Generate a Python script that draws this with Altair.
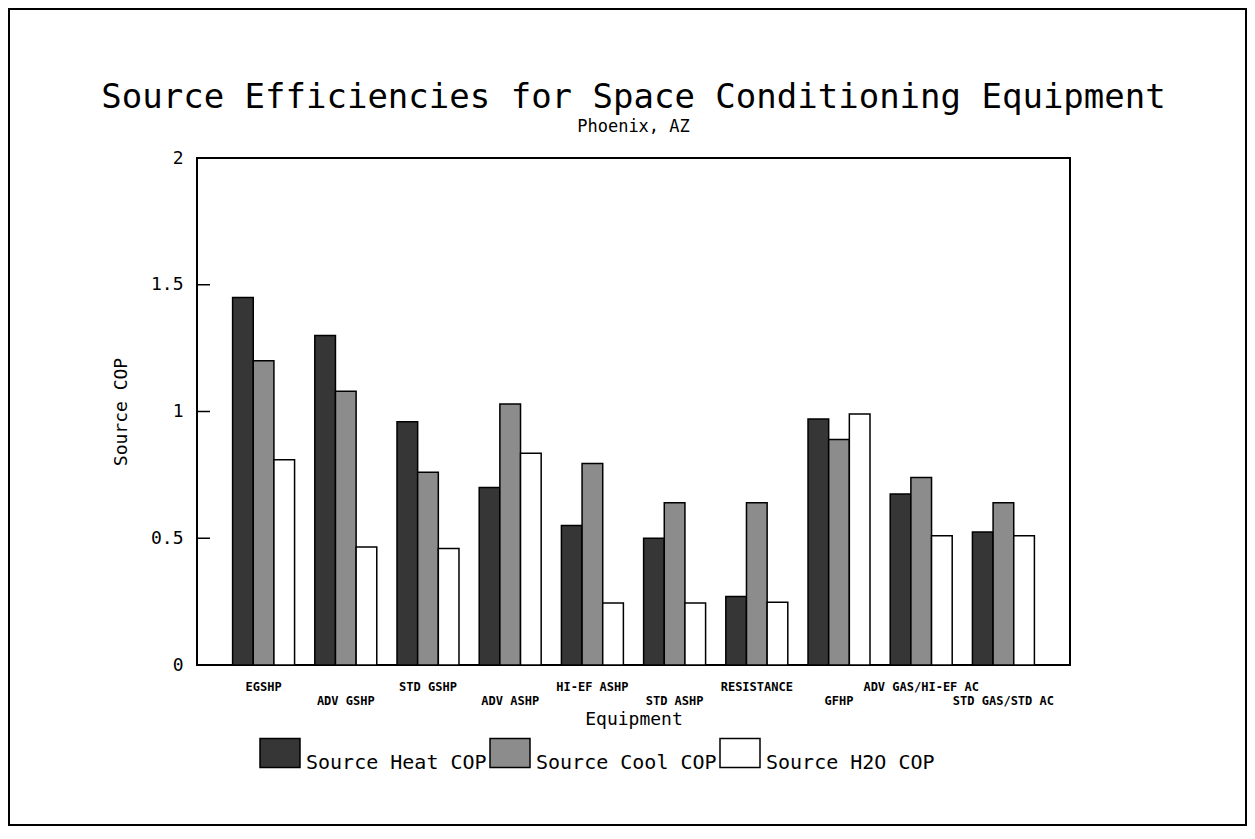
import altair as alt
import pandas as pd

categories = ["EGSHP", "ADV GSHP", "STD GSHP", "ADV ASHP", "HI-EF ASHP",
              "STD ASHP", "RESISTANCE", "GFHP", "ADV GAS/HI-EF AC", "STD GAS/STD AC"]
series = ["Source Heat COP", "Source Cool COP", "Source H2O COP"]
heat = [1.45, 1.30, 0.96, 0.70, 0.55, 0.50, 0.27, 0.97, 0.675, 0.525]
cool = [1.20, 1.08, 0.76, 1.03, 0.795, 0.64, 0.64, 0.89, 0.74, 0.64]
h2o = [0.81, 0.465, 0.46, 0.835, 0.245, 0.245, 0.248, 0.99, 0.51, 0.51]
y_tick_values = [0, 0.5, 1, 1.5, 2]
inner_ticks = [0.5, 1, 1.5]
colors = ["#363636", "#8c8c8c", "#ffffff"]

rows = []
for s, vals in zip(series, [heat, cool, h2o]):
    for c, v in zip(categories, vals):
        rows.append({"Equipment": c, "Series": s, "value": v})
df = pd.DataFrame(rows)
ticks_df = pd.DataFrame({"value": inner_ticks})
frame_df = pd.DataFrame({"k": [0]})

MONO = "DejaVu Sans Mono"
cat_list = "[" + ",".join("'" + c + "'" for c in categories) + "]"
label_expr = f"indexof({cat_list}, datum.value) % 2 == 1 ? ['', datum.label] : datum.label"

y_enc = alt.Y(
    "value:Q",
    scale=alt.Scale(domain=[0, 2], nice=False),
    axis=alt.Axis(
        title="Source COP", values=y_tick_values, format="~g",
        ticks=False, tickSize=0, domain=False, grid=False,
        labelFont=MONO, labelFontSize=18, labelPadding=14, labelColor="black",
        titleFont=MONO, titleFontSize=18, titleFontWeight="normal",
        titlePadding=20, titleColor="black",
    ),
)

bars = alt.Chart(df).mark_bar(stroke="black", strokeWidth=1.5).encode(
    x=alt.X(
        "Equipment:N", sort=categories,
        scale=alt.Scale(paddingInner=0.246, paddingOuter=0.433),
        axis=alt.Axis(
            title="Equipment", labelAngle=0, ticks=False, tickSize=0, domain=False,
            labelFont=MONO, labelFontSize=12, labelFontWeight="bold",
            labelColor="black", labelPadding=16, labelLineHeight=14,
            labelExpr=label_expr, labelOverlap=False, labelLimit=300,
            titleFont=MONO, titleFontSize=18, titleFontWeight="normal",
            titlePadding=4, titleColor="black",
        ),
    ),
    xOffset=alt.XOffset("Series:N", sort=series, scale=alt.Scale(paddingInner=0, paddingOuter=0)),
    y=y_enc,
    color=alt.Color(
        "Series:N", sort=series,
        scale=alt.Scale(domain=series, range=colors),
        legend=alt.Legend(
            title=None, orient="none", legendX=62, legendY=574,
            direction="horizontal", padding=0,
            symbolType="M-1,-0.72L1,-0.72L1,0.72L-1,0.72Z", symbolSize=1600,
            symbolStrokeColor="black", symbolStrokeWidth=1.5, symbolOpacity=1,
            labelFont=MONO, labelFontSize=20, labelColor="black",
            labelOffset=5, columnPadding=0, labelLimit=400, labelBaseline="top",
        ),
    ),
)

inner = alt.Chart(ticks_df).mark_rule(color="black", strokeWidth=1.5).encode(
    y=y_enc,
    x=alt.value(0),
    x2=alt.value(13),
)

frame = alt.Chart(frame_df).mark_rect(
    fillOpacity=0, stroke="black", strokeWidth=2
).encode(
    x=alt.value(-188), x2=alt.value(1049),
    y=alt.value(-149), y2=alt.value(667),
)

chart = alt.layer(frame, bars, inner).properties(
    width=873,
    height=507,
    autosize=alt.AutoSizeParams(type="none"),
    padding={"left": 189, "top": 150, "right": 177, "bottom": 161},
    title=alt.TitleParams(
        text="Source Efficiencies for Space Conditioning Equipment",
        subtitle="Phoenix, AZ",
        font=MONO, fontSize=34, fontWeight="normal", color="black",
        subtitleFont=MONO, subtitleFontSize=17, subtitleColor="black",
        anchor="middle", offset=-127, subtitlePadding=4,
    ),
).configure_view(
    stroke="black", strokeWidth=2
)

chart.save("out.html", embed_options={"renderer": "svg", "actions": False})
